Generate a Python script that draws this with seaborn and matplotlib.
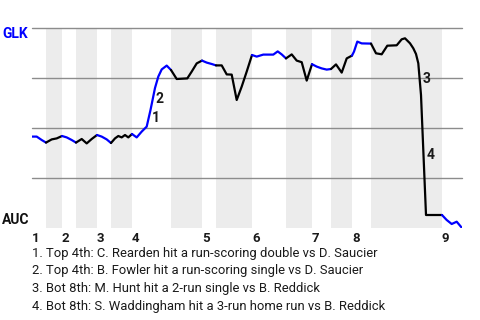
import numpy as np
import pandas as pd
import matplotlib
matplotlib.use("Agg")
import matplotlib.pyplot as plt
import seaborn as sns

# ---- data (x = game progress units, wp = GLK win probability %) ----
x = [0, 0.94, 1.94, 2.8,
     3.94, 4.94, 6,
     6.94, 7.94, 8.8,
     9.94, 10.94, 11.94, 13,
     13.94, 14.94, 15.8,
     16.6, 17.26, 17.94, 18.6, 19.26, 20,
     20.94, 21.94, 22.94, 23.7, 24.6, 25.26, 25.94, 26.94, 27.8,
     28.94, 31.06, 31.94, 32.94, 34,
     34.94, 35.94, 36.8,
     37.94, 38.94, 39.94, 40.94, 41.94, 42.94, 44,
     44.94, 46.26, 48.26, 49.14, 49.94, 50.8,
     51.94, 52.94, 53.94, 54.94, 56,
     56.94, 57.94, 58.94, 59.8,
     60.8, 61.94, 62.94, 64,
     64.4, 65.06, 65.94, 67.8,
     68.8, 69.94, 71.06, 72.94, 73.94, 74.6, 75.6, 76.26, 76.8, 77.26, 77.8, 78.8, 82,
     82.94, 83.94, 84.94, 86]
wp = [45.7, 45.7, 44, 42.7,
      44.3, 44.8, 46,
      45.3, 44, 42.7,
      44.5, 42.3, 44.5, 46.5,
      45.7, 44.3, 42.5,
      44.8, 46, 45.3, 46.5, 45.3, 47,
      45.3, 48.2, 50.7, 59, 70, 75.7, 79.3, 81.2, 79,
      74.5, 74.8, 78.2, 82.3, 83.7,
      82.7, 82, 81.3,
      81.3, 76.8, 76.7, 64, 70.7, 78.2, 86.5,
      85.7, 86.7, 86.7, 88.3, 86.8, 84.8,
      86.8, 83.7, 82.9, 73.7, 81.9,
      80.7, 79.8, 79.2, 79.5,
      81.8, 77.7, 84.8, 86.2,
      88.2, 93.2, 92.3, 92.2,
      87.35, 86.85, 91.15, 91.35, 94.35, 94.85, 92.35, 89.85, 87, 82.35, 66.5, 6.5, 6.5,
      4, 2, 3.15, 0]

# half-inning boundaries (top, bottom alternating)
half_starts = [0, 2.8, 6, 8.8, 13, 15.8, 20, 27.8, 34, 36.8, 44, 50.8, 56, 59.8, 64, 67.8, 82]
x_end = 86
inning_labels = ["1", "2", "3", "4", "5", "6", "7", "8", "9"]

# key events: x where the event segment ends
event_end_x = [23.7, 24.6, 77.8, 78.8]
event_notes = [
    "1. Top 4th: C. Rearden hit a run-scoring double vs D. Saucier",
    "2. Top 4th: B. Fowler hit a run-scoring single vs D. Saucier",
    "3. Bot 8th: M. Hunt hit a 2-run single vs B. Reddick",
    "4. Bot 8th: S. Waddingham hit a 3-run home run vs B. Reddick",
]

df = pd.DataFrame({"x": x, "wp": wp})

sns.set_theme(style="white")
plt.rcParams["font.family"] = ["Roboto", "DejaVu Sans"]

fig = plt.figure(figsize=(4.8, 3.2), dpi=100)
ax = fig.add_axes([32 / 480, 92 / 320, 430 / 480, 200 / 320])
ax.set_xlim(0, x_end)
ax.set_ylim(0, 100)

ends = half_starts[1:] + [x_end]
for i, (s, e) in enumerate(zip(half_starts, ends)):
    if i % 2 == 1:
        ax.axvspan(s, e, color="#ececec", lw=0, zorder=0)

for yv in [25, 50, 75, 100]:
    ax.axhline(yv, color="#8c8c8c", lw=1, zorder=1, clip_on=False)

for i, (s, e) in enumerate(zip(half_starts, ends)):
    seg = df[(df["x"] >= s) & (df["x"] <= e)]
    sns.lineplot(data=seg, x="x", y="wp", color=("#0000ff" if i % 2 == 0 else "black"),
                 lw=1.6, estimator=None, sort=False, ax=ax, zorder=3)

xs = np.array(x)
ws = np.array(wp)
for k, ex in enumerate(event_end_x):
    j = int(np.argmin(np.abs(xs - ex)))
    mx = (xs[j] + xs[j - 1]) / 2
    my = (ws[j] + ws[j - 1]) / 2
    ax.annotate(str(k + 1), (mx, my), xytext=(3, 0), textcoords="offset pixels",
                ha="left", va="center", fontsize=10, fontweight="bold", color="#1a1a1a", zorder=4)

inning_starts = half_starts[0::2]
ax.set_xticks(inning_starts)
ax.set_xticklabels(inning_labels, ha="left", fontsize=9.5, fontweight="bold", color="#1a1a1a")
ax.tick_params(axis="x", length=0, pad=3)
ax.set_yticks([])
ax.set_xlabel("")
ax.set_ylabel("")
for sp in ax.spines.values():
    sp.set_visible(False)

fig.text(2 / 480, 1 - 34 / 320, "GLK", ha="left", va="center", fontsize=10,
         fontweight="bold", color="#0000ff")
fig.text(2 / 480, 1 - 220 / 320, "AUC", ha="left", va="center", fontsize=10,
         fontweight="bold", color="#111111")

for k, note in enumerate(event_notes):
    fig.text(32 / 480, 1 - (253 + 17.7 * k) / 320, note, ha="left", va="center",
             fontsize=9.4, color="#1a1a1a")

fig.savefig("out.png", dpi=100)
